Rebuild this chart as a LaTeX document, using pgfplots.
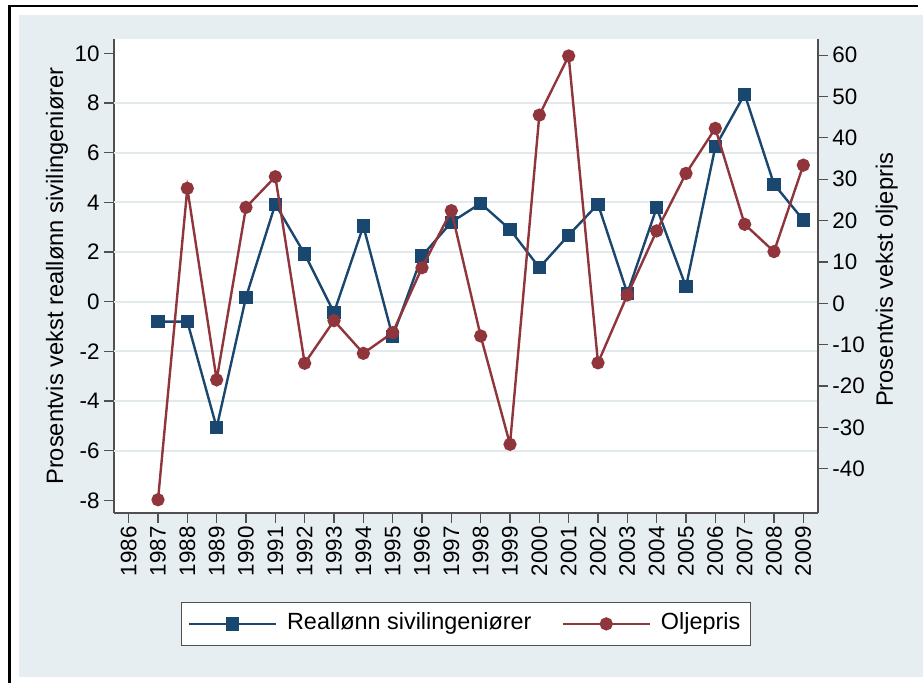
\documentclass[border=0pt]{standalone}
\usepackage{fontspec}
\setmainfont{Liberation Sans}
\usepackage{pgfplots}
\usepackage{pgfplotstable}
\pgfplotsset{compat=1.18}
\definecolor{stblue}{RGB}{26,71,111}
\definecolor{stred}{RGB}{144,53,59}
\definecolor{stbg}{RGB}{231,238,241}
\definecolor{stgrid}{RGB}{226,234,238}
\definecolor{axgray}{RGB}{80,80,80}

\pgfplotstableread{
year wage
1987 -0.80
1988 -0.80
1989 -5.07
1990 0.18
1991 3.93
1992 1.92
1993 -0.44
1994 3.05
1995 -1.41
1996 1.84
1997 3.20
1998 3.96
1999 2.91
2000 1.37
2001 2.68
2002 3.93
2003 0.34
2004 3.78
2005 0.60
2006 6.24
2007 8.36
2008 4.73
2009 3.29
}\wagetable

\pgfplotstableread{
year oil
1987 -47.5
1988 27.8
1989 -18.5
1990 23.2
1991 30.6
1992 -14.5
1993 -4.2
1994 -12.1
1995 -7.1
1996 8.6
1997 22.4
1998 -7.9
1999 -34.1
2000 45.5
2001 59.8
2002 -14.4
2003 2.0
2004 17.5
2005 31.4
2006 42.3
2007 19.1
2008 12.5
2009 33.4
}\oiltable

\begin{document}
\begin{tikzpicture}[font=\fontsize{11.2}{13.5}\selectfont]
\begin{scope}[x=0.5pt,y=-0.5pt]
\useasboundingbox (0,0) rectangle (923,683);
\fill[white] (0,0) rectangle (923,683);
\fill[stbg] (19,15) rectangle (923,677);
\draw[black,line width=1.2pt] (9.7,683) -- (9.7,6) -- (918,6);
\end{scope}

\pgfplotsset{
  common/.style={
    at={(57pt,-256.5pt)}, anchor=south west,
    scale only axis, width=352pt, height=237pt,
    xmin=1985.5, xmax=2009.5,
    /pgf/number format/assume math mode=true,
    /pgf/number format/1000 sep={},
    tick align=outside,
    major tick length=5pt,
    axis line style={-, draw=axgray, line width=0.6pt},
    every tick/.style={draw=axgray, line width=0.6pt},
    tick label style={font=\fontsize{11.2}{13.5}\selectfont, text=black},
    label style={font=\fontsize{11.85}{14}\selectfont},
  },
  wstyle/.style={stblue, line width=1.2pt, mark=square*, mark size=2.7pt, mark options={solid, fill=stblue, draw=stblue}},
  ostyle/.style={stred, line width=1.2pt, mark=*, mark size=2.7pt, mark options={solid, fill=stred, draw=stred}},
}

\begin{axis}[
  common,
  ymin=-8.51, ymax=10.58,
  axis x line*=bottom, axis y line*=left,
  axis background/.style={fill=white},
  xtick={1986,...,2009},
  xticklabel style={rotate=90, anchor=east, inner sep=1.5pt},
  ytick={-8,-6,...,10},
  yticklabel style={inner sep=2pt},
  extra y ticks={-6,-4,...,8},
  extra y tick labels={},
  extra y tick style={major tick length=0pt, grid=major, major grid style={stgrid, line width=1pt}},
  ylabel={Prosentvis vekst reallønn sivilingeniører},
  ylabel style={at={(axis description cs:-0.081,0.5)}, anchor=center},
]
\addplot[wstyle] table[x=year, y=wage] {\wagetable};
\end{axis}

\begin{axis}[
  common,
  ymin=-50.7, ymax=63.9,
  axis x line=none, axis y line*=right,
  ytick={-40,-30,...,60},
  yticklabel style={inner sep=2pt},
  ylabel={Prosentvis vekst oljepris},
  ylabel style={at={(axis description cs:1.0976,0.492)}, anchor=center, rotate=0},
  legend columns=2,
  legend cell align=left,
  legend image code/.code={\draw[mark repeat=2,mark phase=2] plot coordinates {(0pt,0pt) (21.75pt,0pt) (43.5pt,0pt)};},
  legend style={at={(0.5,-0.234)}, anchor=center, draw=axgray, line width=0.5pt, fill=white,
    inner xsep=3pt, inner ysep=3.5pt,
    nodes={inner sep=2pt, text height=8.3pt, text depth=2.5pt},
    font=\fontsize{11.7}{14}\selectfont,
    /tikz/every odd column/.append style={column sep=3pt},
    /tikz/every even column/.append style={column sep=13pt}},
]
\addlegendimage{wstyle}
\addlegendentry{Reallønn sivilingeniører}
\addplot[ostyle] table[x=year, y=oil] {\oiltable};
\addlegendentry{Oljepris}
\end{axis}
\end{tikzpicture}
\end{document}
